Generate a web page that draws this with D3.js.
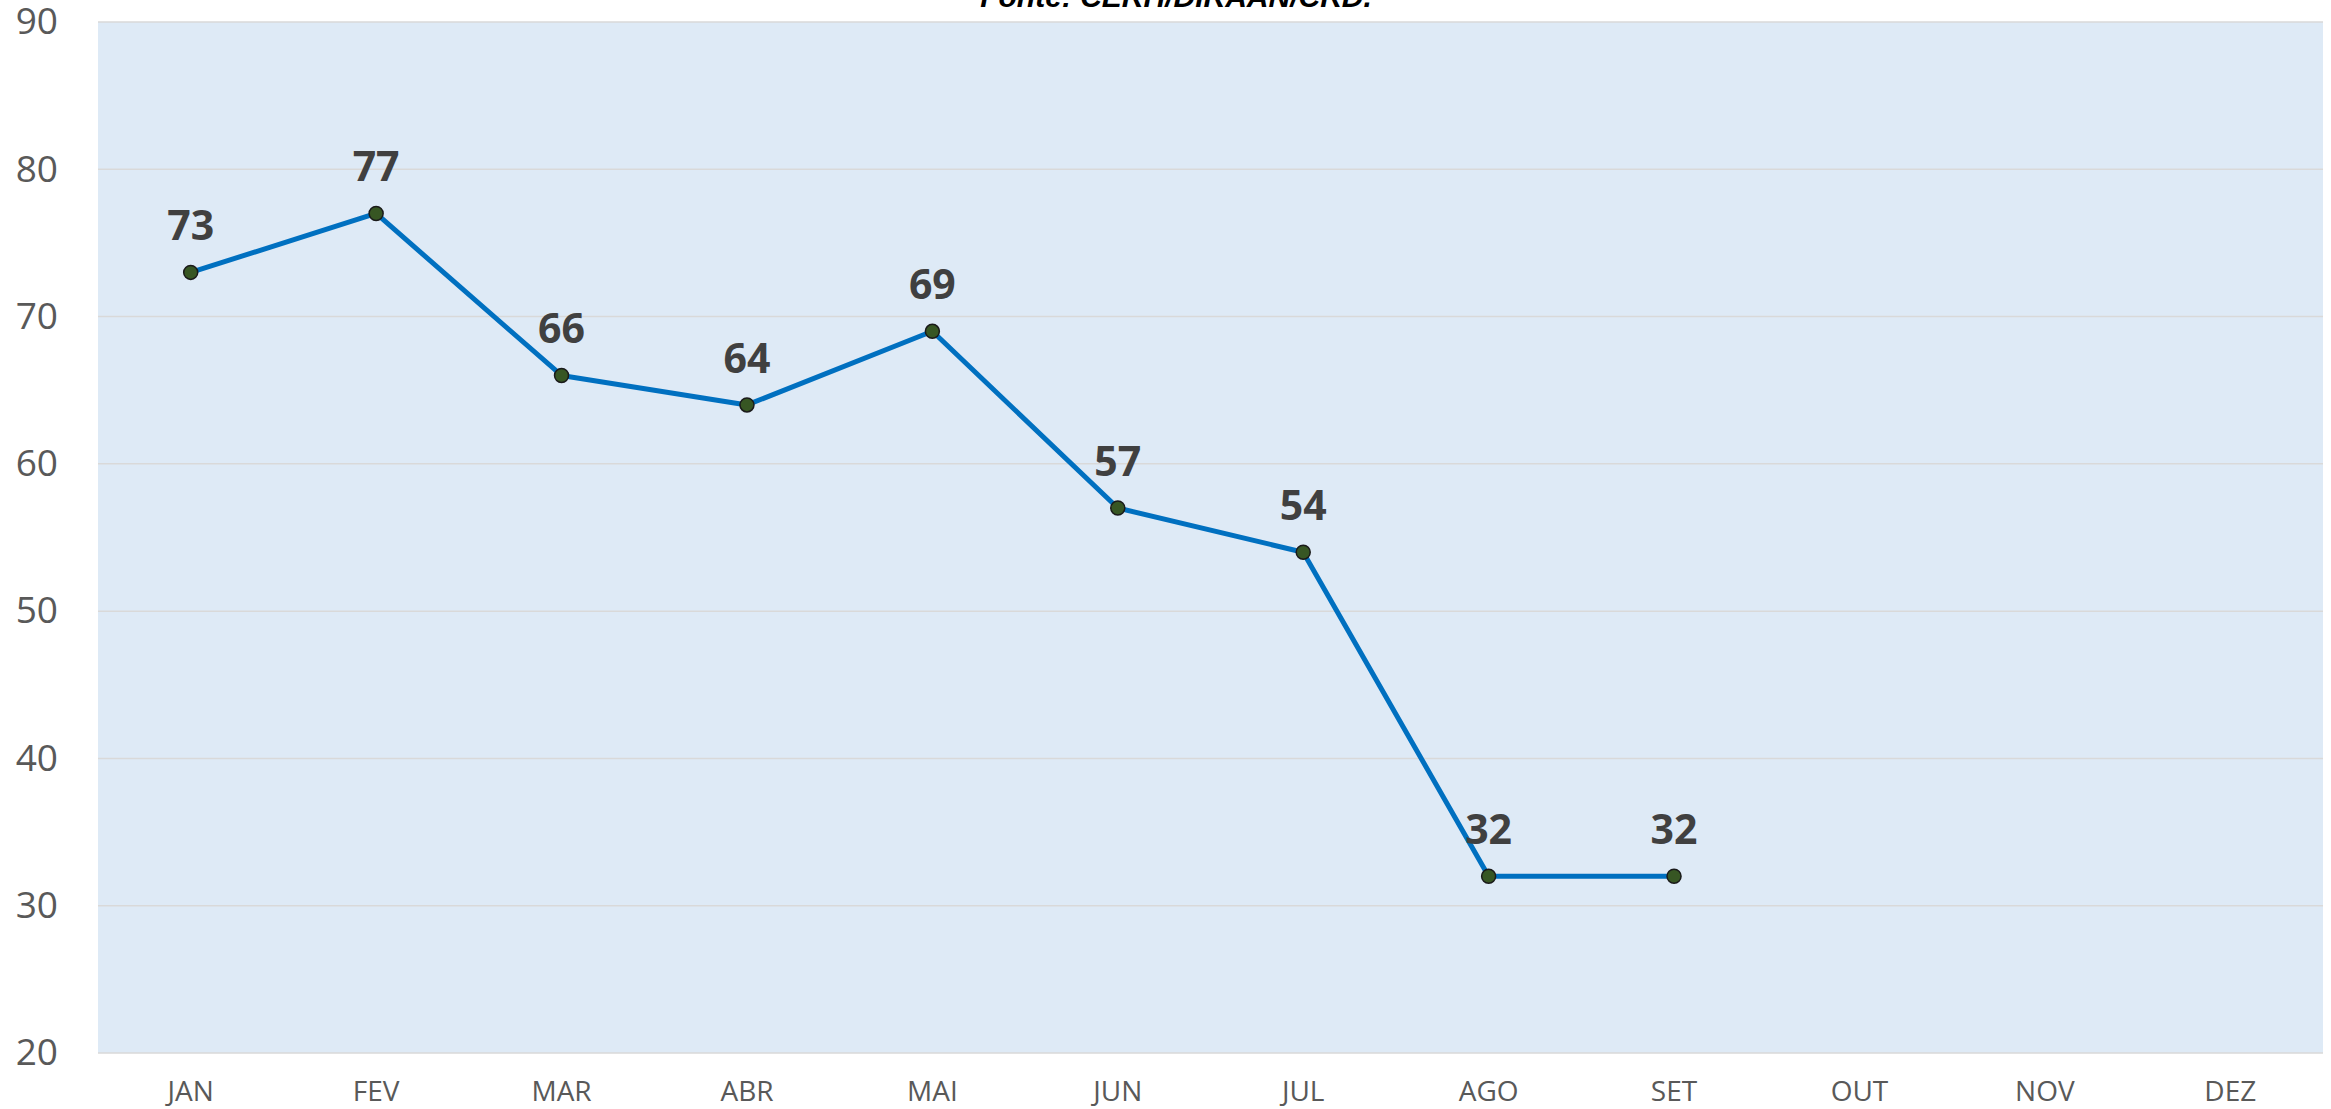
<!DOCTYPE html>
<html>
<head>
<meta charset="utf-8">
<script src="https://cdn.jsdelivr.net/npm/d3@7"></script>
<style>
  html, body { margin: 0; padding: 0; background: #fff; }
  svg { display: block; font-family: "Open Sans", "Noto Sans", sans-serif; }
</style>
</head>
<body>
<svg id="chart"></svg>
<script>
// chart data
const months = ['JAN', 'FEV', 'MAR', 'ABR', 'MAI', 'JUN', 'JUL', 'AGO', 'SET', 'OUT', 'NOV', 'DEZ'];
const values = [73, 77, 66, 64, 69, 57, 54, 32, 32];
const yTicks = [20, 30, 40, 50, 60, 70, 80, 90];
const sourceText = 'Fonte: CERH/DIRAAN/CRD.';

const width = 2331, height = 1109;
const margin = {top: 22, right: 8, bottom: 56, left: 98};

const svg = d3.select('#chart')
  .attr('width', width)
  .attr('height', height);

const innerW = width - margin.left - margin.right;
const innerH = height - margin.top - margin.bottom;

const x = d3.scaleBand()
  .domain(months)
  .range([margin.left, margin.left + innerW]);

const y = d3.scaleLinear()
  .domain([20, 90])
  .range([margin.top + innerH, margin.top]);

// plot background
svg.append('rect')
  .attr('x', margin.left)
  .attr('y', margin.top)
  .attr('width', innerW)
  .attr('height', innerH)
  .attr('fill', '#DEEAF6');

// gridlines
svg.append('g')
  .selectAll('line')
  .data(yTicks)
  .join('line')
  .attr('x1', margin.left)
  .attr('x2', margin.left + innerW)
  .attr('y1', d => y(d))
  .attr('y2', d => y(d))
  .attr('stroke', '#D9D9D9')
  .attr('stroke-width', 1.5);

// y axis labels
const yAxis = d3.axisLeft(y).tickValues(yTicks).tickSize(0).tickPadding(40);
svg.append('g')
  .attr('transform', `translate(${margin.left},0)`)
  .call(yAxis)
  .call(g => g.select('.domain').remove())
  .call(g => g.selectAll('text')
    .attr('fill', '#595959')
    .attr('font-size', 37)
    .attr('font-family', '"Open Sans", sans-serif'));

// x axis labels
const xAxis = d3.axisBottom(x).tickSize(0).tickPadding(28);
svg.append('g')
  .attr('transform', `translate(0,${margin.top + innerH})`)
  .call(xAxis)
  .call(g => g.select('.domain').remove())
  .call(g => g.selectAll('text')
    .attr('fill', '#595959')
    .attr('font-size', 28)
    .attr('font-family', '"Open Sans", sans-serif'));

const points = values.map((v, i) => ({month: months[i], value: v}));

// line
const line = d3.line()
  .x(d => x(d.month) + x.bandwidth() / 2)
  .y(d => y(d.value));

svg.append('path')
  .datum(points)
  .attr('d', line)
  .attr('fill', 'none')
  .attr('stroke', '#0070C0')
  .attr('stroke-width', 5)
  .attr('stroke-linejoin', 'round');

// markers
svg.append('g')
  .selectAll('circle')
  .data(points)
  .join('circle')
  .attr('cx', d => x(d.month) + x.bandwidth() / 2)
  .attr('cy', d => y(d.value))
  .attr('r', 7)
  .attr('fill', '#375623')
  .attr('stroke', '#1a1a1a')
  .attr('stroke-width', 1.5);

// data labels
svg.append('g')
  .selectAll('text')
  .data(points)
  .join('text')
  .attr('x', d => x(d.month) + x.bandwidth() / 2)
  .attr('y', d => y(d.value) - 32)
  .attr('text-anchor', 'middle')
  .attr('font-size', 41)
  .attr('font-weight', 'bold')
  .attr('fill', '#404040')
  .text(d => d.value);

// source note, cut off at the top edge as in the original
svg.append('text')
  .attr('x', 1176)
  .attr('y', 7)
  .attr('text-anchor', 'middle')
  .attr('font-size', 30)
  .attr('font-weight', 'bold')
  .attr('font-style', 'italic')
  .attr('font-family', '"Liberation Sans", Arial, sans-serif')
  .attr('fill', '#000')
  .text(sourceText);
</script>
</body>
</html>
